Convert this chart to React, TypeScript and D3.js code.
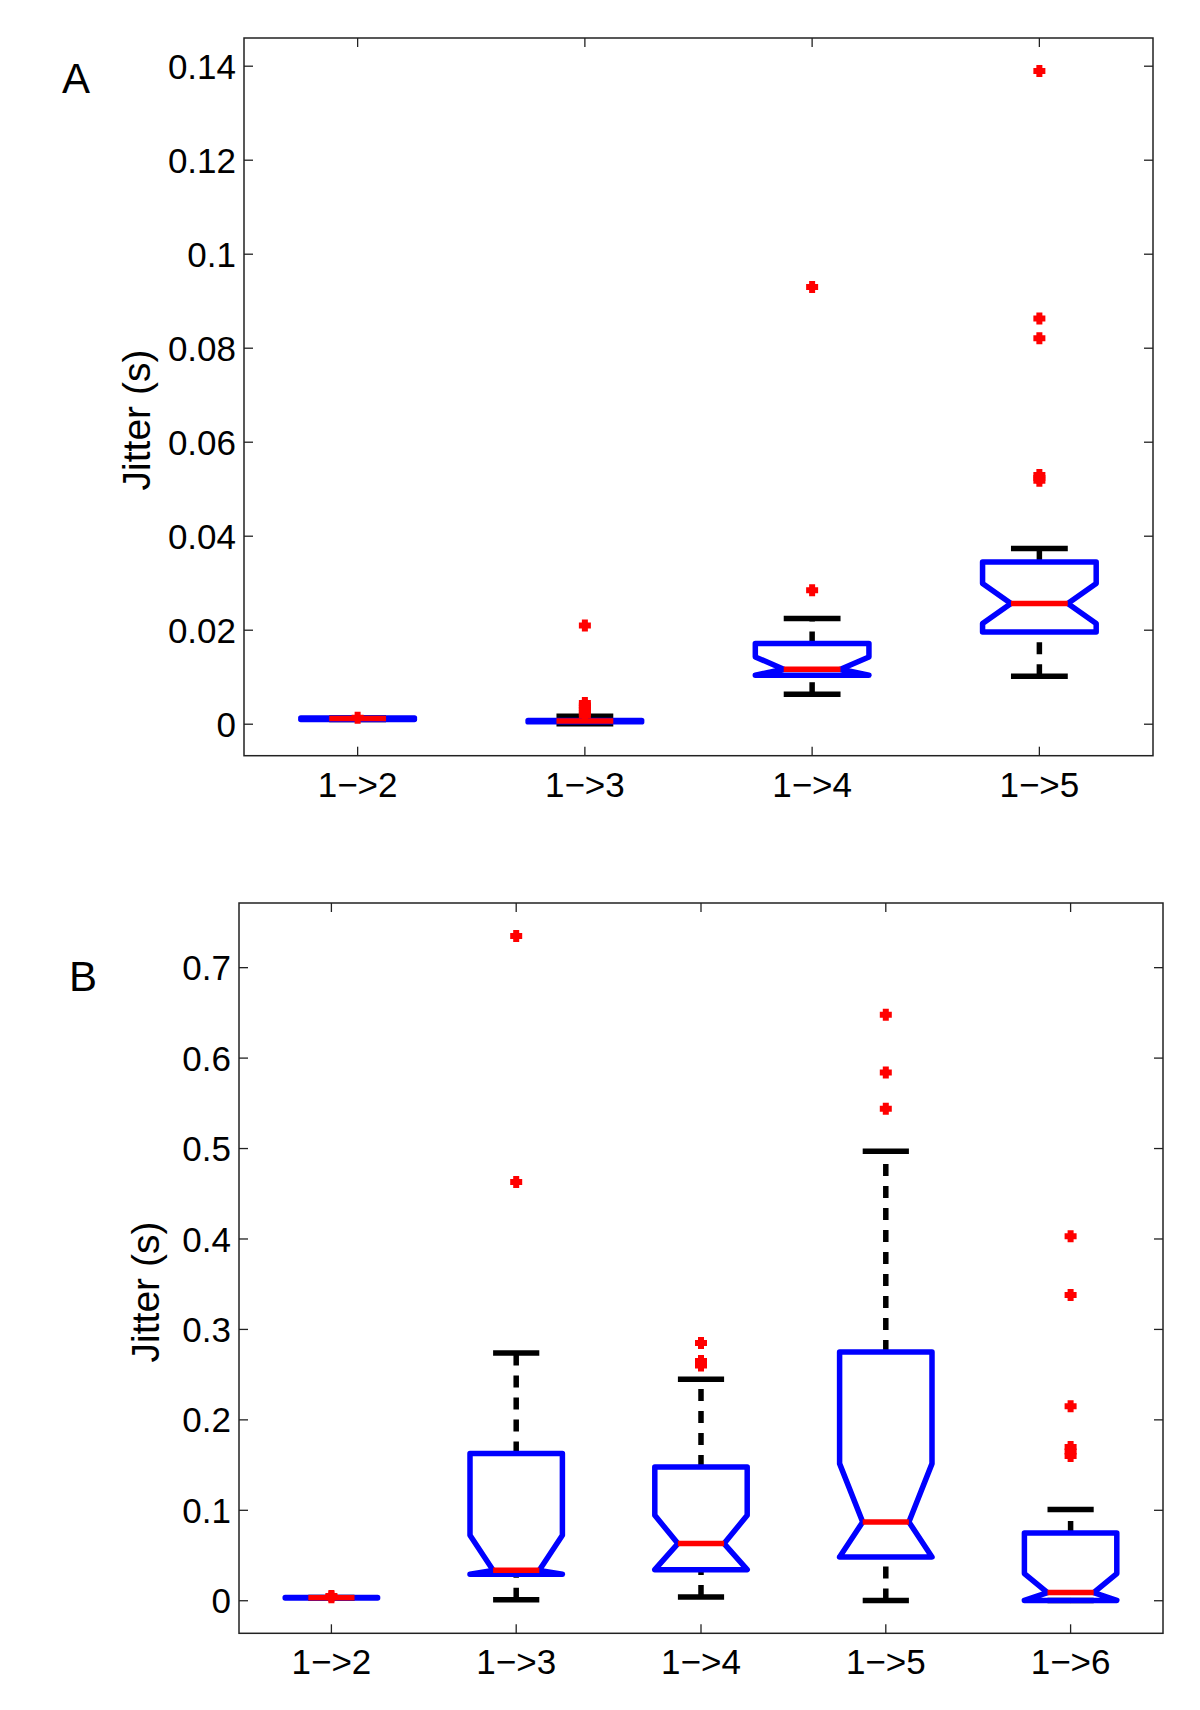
import React from 'react';
import * as d3 from 'd3';

// ---------- Panel A data ----------
const catsA = ['1−>2', '1−>3', '1−>4', '1−>5'];
const q1A = [0.0010, 0.0005, 0.01043, 0.01964];
const medA = [0.0012, 0.0007, 0.0117, 0.02568];
const q3A = [0.0013, 0.0008, 0.01717, 0.03453];
const notchLoA = [0.0010, 0.0005, 0.01043, 0.02143];
const notchHiA = [0.0013, 0.0008, 0.01432, 0.02994];
const whiskLoA = [0.0010, 0.0001, 0.00638, 0.01021];
const whiskHiA = [0.0013, 0.0017, 0.02249, 0.03738];
const outliersA = [
  [0.0014],
  [0.0210, 0.0045, 0.0040, 0.0035, 0.0030, 0.0024, 0.0019],
  [0.0930, 0.0285],
  [0.1390, 0.0863, 0.0821, 0.0530, 0.0524, 0.0518],
];
const yTicksA = [0, 0.02, 0.04, 0.06, 0.08, 0.1, 0.12, 0.14];
const yTickLabelsA = ['0', '0.02', '0.04', '0.06', '0.08', '0.1', '0.12', '0.14'];
const yDomainA = [-0.0067, 0.146];

// ---------- Panel B data ----------
const catsB = ['1−>2', '1−>3', '1−>4', '1−>5', '1−>6'];
const q1B = [0.0030, 0.0292, 0.0344, 0.0484, 0.0004];
const medB = [0.0033, 0.0336, 0.0632, 0.0871, 0.0090];
const q3B = [0.0036, 0.1627, 0.1479, 0.2751, 0.0749];
const notchLoB = [0.0030, 0.0292, 0.0344, 0.0484, 0.0004];
const notchHiB = [0.0036, 0.0723, 0.0945, 0.1516, 0.0300];
const whiskLoB = [0.0030, 0.0012, 0.0041, 0.0004, 0.0004];
const whiskHiB = [0.0036, 0.2740, 0.2450, 0.4970, 0.1008];
const outliersB = [
  [0.0052, 0.0038],
  [0.735, 0.463],
  [0.285, 0.265, 0.260],
  [0.648, 0.584, 0.544],
  [0.403, 0.338, 0.215, 0.170, 0.165, 0.160],
];
const yTicksB = [0, 0.1, 0.2, 0.3, 0.4, 0.5, 0.6, 0.7];
const yTickLabelsB = ['0', '0.1', '0.2', '0.3', '0.4', '0.5', '0.6', '0.7'];
const yDomainB = [-0.036, 0.7715];

const FONT = '"Liberation Sans", Arial, Helvetica, sans-serif';
const BLUE = '#0000ff';
const RED = '#ff0000';

type PanelProps = {
  cats: string[];
  q1: number[];
  med: number[];
  q3: number[];
  nlo: number[];
  nhi: number[];
  wlo: number[];
  whi: number[];
  outliers: number[][];
  yTicks: number[];
  yTickLabels: string[];
  yDomain: number[];
  frame: { left: number; right: number; top: number; bottom: number };
  letter: string;
  letterPos: [number, number];
  ylabelPos: [number, number];
};

function Panel(p: PanelProps) {
  const { left, right, top, bottom } = p.frame;
  const n = p.cats.length;
  const x = d3.scaleLinear().domain([0.5, n + 0.5]).range([left, right]);
  const y = d3.scaleLinear().domain(p.yDomain).range([bottom, top]);
  const W = 0.25; // box half width in category units
  const line = d3
    .line<[number, number]>()
    .x((d) => x(d[0]))
    .y((d) => y(d[1]));
  const tickLen = 9;
  const axisColor = '#222';

  return (
    <g>
      <rect x={left} y={top} width={right - left} height={bottom - top} fill="white" stroke={axisColor} strokeWidth={1.5} />
      {p.yTicks.map((t, i) => (
        <g key={'yt' + i}>
          <line x1={left} x2={left + tickLen} y1={y(t)} y2={y(t)} stroke={axisColor} strokeWidth={1.3} />
          <line x1={right} x2={right - tickLen} y1={y(t)} y2={y(t)} stroke={axisColor} strokeWidth={1.3} />
          <text x={left - 8} y={y(t)} dy="0.36em" textAnchor="end" fontFamily={FONT} fontSize={35} fill="#000">
            {p.yTickLabels[i]}
          </text>
        </g>
      ))}
      {p.cats.map((c, i) => (
        <g key={'xt' + i}>
          <line x1={x(i + 1)} x2={x(i + 1)} y1={bottom} y2={bottom - tickLen} stroke={axisColor} strokeWidth={1.3} />
          <line x1={x(i + 1)} x2={x(i + 1)} y1={top} y2={top + tickLen} stroke={axisColor} strokeWidth={1.3} />
          <text x={x(i + 1)} y={bottom + 41} textAnchor="middle" fontFamily={FONT} fontSize={35} fill="#000">
            {c}
          </text>
        </g>
      ))}
      {p.cats.map((c, i) => {
        const cx = i + 1;
        const poly: [number, number][] = [
          [cx - W, p.q1[i]],
          [cx - W, p.nlo[i]],
          [cx - W / 2, p.med[i]],
          [cx - W, p.nhi[i]],
          [cx - W, p.q3[i]],
          [cx + W, p.q3[i]],
          [cx + W, p.nhi[i]],
          [cx + W / 2, p.med[i]],
          [cx + W, p.nlo[i]],
          [cx + W, p.q1[i]],
          [cx - W, p.q1[i]],
        ];
        return (
          <g key={'box' + i}>
            <line x1={x(cx)} x2={x(cx)} y1={y(p.q3[i])} y2={y(p.whi[i])} stroke="#000" strokeWidth={5.5} strokeDasharray="12 10" />
            <line x1={x(cx)} x2={x(cx)} y1={y(p.wlo[i])} y2={y(p.q1[i])} stroke="#000" strokeWidth={5.5} strokeDasharray="12 10" />
            <line x1={x(cx - W / 2)} x2={x(cx + W / 2)} y1={y(p.whi[i])} y2={y(p.whi[i])} stroke="#000" strokeWidth={5.5} />
            <line x1={x(cx - W / 2)} x2={x(cx + W / 2)} y1={y(p.wlo[i])} y2={y(p.wlo[i])} stroke="#000" strokeWidth={5.5} />
            <path d={line(poly) || ''} fill="none" stroke={BLUE} strokeWidth={5.5} strokeLinejoin="round" strokeLinecap="round" />
            <line x1={x(cx - W / 2)} x2={x(cx + W / 2)} y1={y(p.med[i])} y2={y(p.med[i])} stroke={RED} strokeWidth={5.5} />
            {p.outliers[i].map((v, k) => (
              <path
                key={'o' + k}
                d={`M${x(cx) - 6},${y(v)}h12M${x(cx)},${y(v) - 6}v12`}
                stroke={RED}
                strokeWidth={6}
                fill="none"
              />
            ))}
          </g>
        );
      })}
      <text
        transform={`translate(${p.ylabelPos[0]},${p.ylabelPos[1]}) rotate(-90)`}
        textAnchor="middle"
        fontFamily={FONT}
        fontSize={39}
        fill="#000"
      >
        Jitter (s)
      </text>
      <text x={p.letterPos[0]} y={p.letterPos[1]} fontFamily={FONT} fontSize={42} fill="#000">
        {p.letter}
      </text>
    </g>
  );
}

export default function App() {
  return (
    <svg
      width={1200}
      height={1710}
      viewBox="0 0 1200 1710"
      style={{ position: 'absolute', left: 0, top: 0, background: 'white' }}
    >
      <rect x={0} y={0} width={1200} height={1710} fill="white" />
      <Panel
        cats={catsA}
        q1={q1A}
        med={medA}
        q3={q3A}
        nlo={notchLoA}
        nhi={notchHiA}
        wlo={whiskLoA}
        whi={whiskHiA}
        outliers={outliersA}
        yTicks={yTicksA}
        yTickLabels={yTickLabelsA}
        yDomain={yDomainA}
        frame={{ left: 244, right: 1153, top: 38, bottom: 755.7 }}
        letter="A"
        letterPos={[62, 93]}
        ylabelPos={[150, 420]}
      />
      <Panel
        cats={catsB}
        q1={q1B}
        med={medB}
        q3={q3B}
        nlo={notchLoB}
        nhi={notchHiB}
        wlo={whiskLoB}
        whi={whiskHiB}
        outliers={outliersB}
        yTicks={yTicksB}
        yTickLabels={yTickLabelsB}
        yDomain={yDomainB}
        frame={{ left: 239, right: 1163, top: 903, bottom: 1633.3 }}
        letter="B"
        letterPos={[69, 991]}
        ylabelPos={[159, 1292]}
      />
    </svg>
  );
}
